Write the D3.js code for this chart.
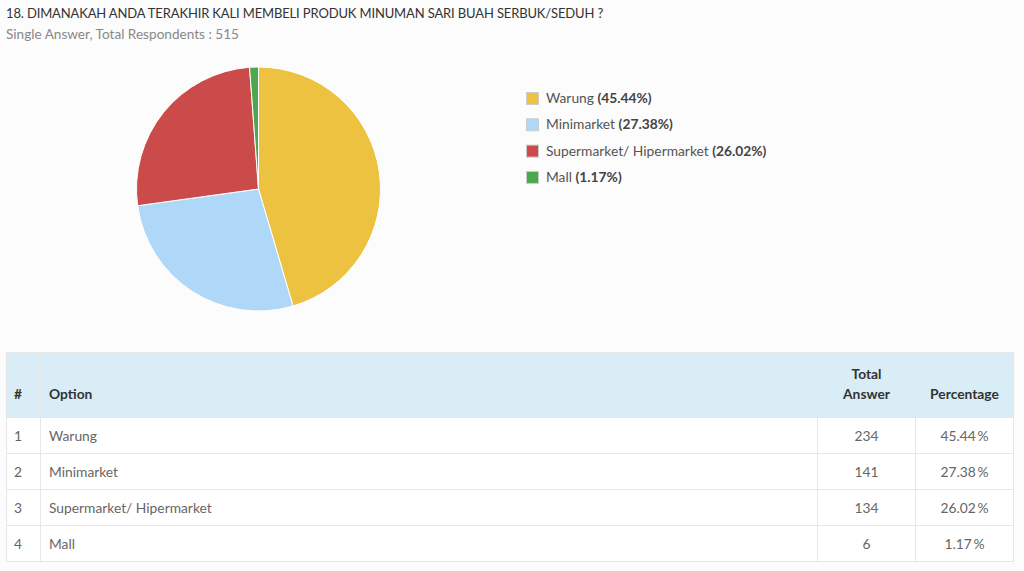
<!DOCTYPE html>
<html><head><meta charset="utf-8">
<script src="https://cdn.jsdelivr.net/npm/d3@7/dist/d3.min.js"></script>
<style>
html,body{margin:0;padding:0;background:#fcfcfc;font-family:Lato,"Open Sans",sans-serif;}
svg{display:block;}
</style></head><body>
<svg id="chart" width="1024" height="571"></svg>
<script>
const title = "18. DIMANAKAH ANDA TERAKHIR KALI MEMBELI PRODUK MINUMAN SARI BUAH SERBUK/SEDUH ?";
const subtitle = "Single Answer, Total Respondents : 515";
const categories = ["Warung", "Minimarket", "Supermarket/ Hipermarket", "Mall"];
const answers = [234, 141, 134, 6];
const percents = [45.44, 27.38, 26.02, 1.17];
const colors = ["#edc240", "#afd8f8", "#cb4b4b", "#4da74d"];
const headers = ["#", "Option", "Total|Answer", "Percentage"];

const FS = 13.8;
const svg = d3.select("#chart");
svg.append("text").attr("x", 6).attr("y", 18).attr("font-size", 13).attr("fill", "#333")
  .style("letter-spacing", "-0.14px").text(title);
svg.append("text").attr("x", 6).attr("y", 39).attr("font-size", 13.6).attr("fill", "#888").text(subtitle);

// Pie
const cx = 258.5, cy = 189, r = 122;
const pie = d3.pie().sort(null).value(d => d)(answers);
const arc = d3.arc().innerRadius(0).outerRadius(r);
const g = svg.append("g").attr("transform", `translate(${cx},${cy})`);
g.selectAll("path").data(pie).join("path")
  .attr("d", arc).attr("fill", (d, i) => colors[i])
  .attr("stroke", "#fff").attr("stroke-width", 1);

// Legend
const lg = svg.append("g").attr("transform", "translate(526,92)");
const items = lg.selectAll("g").data(categories).join("g")
  .attr("transform", (d, i) => `translate(0,${i * 26.3})`);
items.append("rect").attr("x", 0.5).attr("y", 0.5).attr("width", 12).attr("height", 12)
  .attr("fill", (d, i) => colors[i]).attr("stroke", "#ccc").attr("stroke-width", 1);
const lt = items.append("text").attr("x", 20).attr("y", 11).attr("font-size", FS).attr("fill", "#545454");
lt.append("tspan").text(d => d + " ");
lt.append("tspan").attr("font-weight", "bold").attr("fill", "#444").text((d, i) => `(${percents[i].toFixed(2)}%)`);

// Table
const tx0 = 6.5, tx1 = 1013.5;
const colX = [tx0, 40.5, 817.5, 915.5, tx1];
const headTop = 352.5, headBot = 417.5, rowH = 36;
const y = d3.scaleBand().domain(d3.range(categories.length)).range([headBot, headBot + rowH * categories.length]);
const tbl = svg.append("g");
tbl.append("rect").attr("x", tx0).attr("y", headTop).attr("width", tx1 - tx0).attr("height", headBot - headTop)
  .attr("fill", "#d9edf7");
tbl.append("rect").attr("x", tx0).attr("y", headBot).attr("width", tx1 - tx0).attr("height", rowH * categories.length)
  .attr("fill", "#fff");
tbl.append("rect").attr("x", tx0).attr("y", headTop).attr("width", tx1 - tx0)
  .attr("height", headBot + rowH * categories.length - headTop).attr("fill", "none").attr("stroke", "#e6e6e6");
colX.slice(1, 4).forEach(x => tbl.append("line").attr("x1", x).attr("x2", x).attr("y1", headTop)
  .attr("y2", headBot + rowH * categories.length).attr("stroke", "#e6e6e6"));
categories.forEach((c, i) => tbl.append("line").attr("x1", tx0).attr("x2", tx1)
  .attr("y1", y(i)).attr("y2", y(i)).attr("stroke", "#e6e6e6"));
// header text
const hdr = (x, yy, t, anchor) => tbl.append("text").attr("x", x).attr("y", yy).attr("text-anchor", anchor || "start")
  .attr("font-size", FS).attr("font-weight", "bold").attr("fill", "#333").text(t);
hdr(14, 399, headers[0]);
hdr(49, 399, headers[1]);
const th = tbl.append("text").attr("text-anchor", "middle")
  .attr("font-size", FS).attr("font-weight", "bold").attr("fill", "#333");
headers[2].split("|").forEach((t, k) => th.append("tspan").attr("x", (colX[2] + colX[3]) / 2).attr("y", 379 + k * 20).text(t));
hdr((colX[3] + colX[4]) / 2, 399, headers[3], "middle");
// rows
const rows = tbl.selectAll("g.row").data(categories).join("g").attr("class", "row")
  .attr("transform", (d, i) => `translate(0,${y(i) + y.bandwidth() / 2 + 5})`);
rows.append("text").attr("x", 14).attr("font-size", FS).attr("fill", "#666").text((d, i) => i + 1);
rows.append("text").attr("x", 49).attr("font-size", FS).attr("fill", "#666").text(d => d);
rows.append("text").attr("x", (colX[2] + colX[3]) / 2).attr("text-anchor", "middle").attr("font-size", FS)
  .attr("fill", "#666").text((d, i) => answers[i]);
rows.append("text").attr("x", (colX[3] + colX[4]) / 2).attr("text-anchor", "middle").attr("font-size", FS)
  .attr("fill", "#666").text((d, i) => percents[i].toFixed(2) + "\u2009%");
</script>
</body></html>
